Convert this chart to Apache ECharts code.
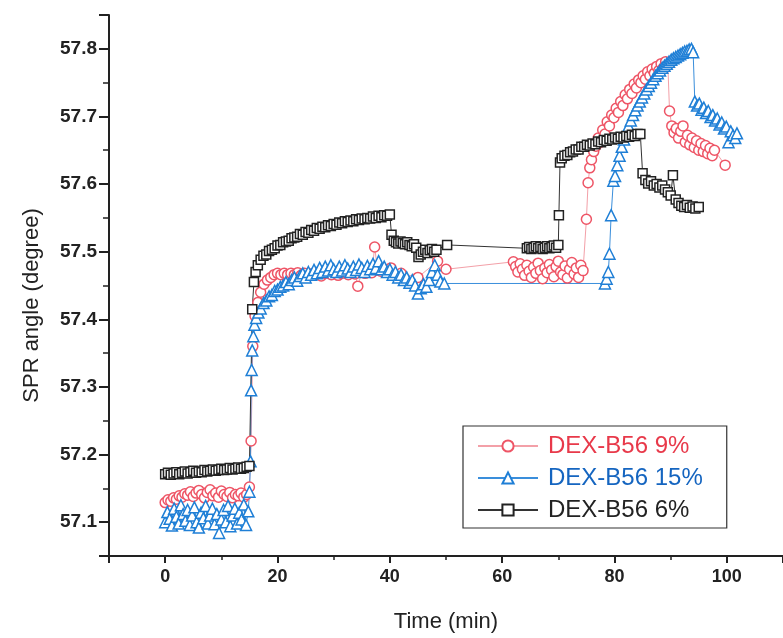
<!DOCTYPE html>
<html>
<head>
<meta charset="utf-8">
<script src="https://cdn.jsdelivr.net/npm/echarts@6/dist/echarts.min.js"></script>
<style>
  html, body { margin: 0; padding: 0; background: #fff; }
  #chart { width: 783px; height: 638px; }
</style>
</head>
<body>
<div id="chart"></div>
<script>
// SPR angle traces (degree) versus time (min) for three DEX-B56 concentrations.

const seriesNames = ['DEX-B56 9%', 'DEX-B56 15%', 'DEX-B56 6%'];

// DEX-B56 9%
const tRed = [
  0, 0.5, 1, 1.5, 2, 2.5, 3, 3.5, 4, 4.5, 5, 5.5, 6, 6.5, 7, 7.5, 8, 8.5, 9, 9.5, 10, 10.5, 11, 11.5, 12, 12.5, 13, 13.5, 14, 14.5, 15,
  15.3, 15.6, 16, 16.5, 17, 17.6, 18.2, 18.8, 19.4, 20, 20.6, 21.2, 21.8, 22.4, 23, 23.6, 24.2, 24.8, 25.4, 26, 26.6, 27.2, 27.8, 28.4, 29,
  29.6, 30.2, 30.8, 31.4, 32, 32.6, 33.2, 33.8, 34.3, 35, 35.6, 36.2, 36.8, 37.3, 37.8, 38.4, 39, 39.6, 40.2,
  42, 45, 48.5, 50,
  62, 62.4, 62.8, 63.2, 63.6, 64, 64.4, 64.8, 65.2, 65.6, 66, 66.4, 66.8, 67.2, 67.6, 68, 68.4, 68.8, 69.2, 69.6, 70, 70.4, 70.8, 71.2, 71.6, 72, 72.4, 72.8, 73.2, 73.6, 74, 74.4,
  75, 75.3, 75.6, 75.9, 76.3, 76.7, 77.1, 77.5, 77.9, 78.3, 78.7, 79.1, 79.5, 79.9, 80.3, 80.7, 81.1, 81.5, 81.9, 82.3, 82.7, 83.1, 83.5, 83.9, 84.3, 84.7, 85.1, 85.5, 85.9, 86.3, 86.7, 87.1, 87.5, 87.9, 88.3, 88.7, 89.1, 89.5,
  89.8, 90.2, 90.6, 91, 91.4, 91.8, 92.2, 92.6, 93, 93.4, 93.8, 94.2, 94.6, 95, 95.4, 95.8, 96.2, 96.6, 97, 97.4, 97.8, 99.7
];
const vRed = [
  57.129, 57.133, 57.131, 57.136, 57.134, 57.139, 57.137, 57.142, 57.140, 57.145, 57.138, 57.143, 57.147, 57.141, 57.136, 57.144, 57.148, 57.139, 57.143, 57.137, 57.146, 57.141, 57.138, 57.144, 57.136, 57.141, 57.139, 57.143, 57.137, 57.141, 57.152,
  57.220, 57.360, 57.405, 57.425, 57.440, 57.452, 57.458, 57.462, 57.466, 57.468, 57.466, 57.468, 57.466, 57.468, 57.466, 57.469, 57.465, 57.468, 57.464, 57.467, 57.466, 57.469, 57.464, 57.468, 57.469,
  57.466, 57.469, 57.465, 57.468, 57.470, 57.466, 57.469, 57.467, 57.449, 57.470, 57.468, 57.472, 57.469, 57.507, 57.473, 57.471, 57.474, 57.472, 57.476,
  57.468, 57.462, 57.486, 57.474,
  57.485, 57.478, 57.470, 57.482, 57.474, 57.465, 57.480, 57.471, 57.462, 57.477, 57.468, 57.483, 57.472, 57.460, 57.476, 57.469, 57.481, 57.473, 57.463, 57.478, 57.486, 57.470, 57.466, 57.479, 57.461, 57.474, 57.484, 57.467, 57.476, 57.462, 57.480, 57.472,
  57.548, 57.602, 57.624, 57.636, 57.648, 57.656, 57.668, 57.662, 57.680, 57.674, 57.692, 57.686, 57.702, 57.698, 57.712, 57.706, 57.722, 57.716, 57.732, 57.726, 57.740, 57.734, 57.748, 57.742, 57.754, 57.750, 57.760, 57.755, 57.766, 57.760, 57.770, 57.764, 57.774, 57.768, 57.778, 57.772, 57.781, 57.776,
  57.708, 57.686, 57.676, 57.682, 57.668, 57.678, 57.686, 57.662, 57.672, 57.658, 57.668, 57.654, 57.664, 57.650, 57.660, 57.648, 57.657, 57.645, 57.653, 57.642, 57.650, 57.628
];

// DEX-B56 15%
const tBlue = [
  0, 0.4, 0.8, 1.2, 1.6, 2, 2.4, 2.8, 3.2, 3.6, 4, 4.4, 4.8, 5.2, 5.6, 6, 6.4, 6.8, 7.2, 7.6, 8, 8.4, 8.8, 9.2, 9.6, 10, 10.4, 10.8, 11.2, 11.6, 12, 12.4, 12.8, 13.2, 13.6, 14, 14.4, 14.8, 15,
  15.2, 15.3, 15.4, 15.5, 15.7, 15.9, 16.2, 16.6,
  17, 17.5, 18, 18.5, 19, 19.5, 20, 20.5, 21, 21.5, 22, 22.5, 23, 23.5, 24, 24.5, 25, 25.5, 26, 26.5, 27, 27.5, 28, 28.5, 29, 29.5, 30, 30.5, 31, 31.5, 32, 32.5,
  33, 33.5, 34, 34.5, 35, 35.5, 36, 36.5, 37, 37.5, 38, 38.5, 39, 39.5, 40, 40.5, 41, 41.5, 42, 42.5, 43, 43.5, 44, 44.5, 45, 45.5, 46, 46.5, 47, 47.5, 48, 48.5, 49, 49.7,
  78.3, 78.6, 78.9, 79.1, 79.4, 79.8, 80.1, 80.5, 80.9, 81.3, 81.7, 82.1, 82.5, 82.9, 83.3, 83.7, 84.1, 84.5, 84.9, 85.3, 85.7, 86.1, 86.5, 86.9, 87.3, 87.7, 88.1, 88.5, 88.9, 89.3, 89.7, 90.1, 90.5, 90.9, 91.3, 91.7, 92.1, 92.5, 92.9, 93.3, 93.7, 94,
  94.3, 94.7, 95.1, 95.5, 95.9, 96.3, 96.7, 97.1, 97.5, 97.9, 98.3, 98.7, 99.1, 99.5, 99.9, 100.3, 100.7, 101.1, 101.5, 101.8
];
const vBlue = [
  57.100, 57.115, 57.105, 57.095, 57.120, 57.108, 57.098, 57.125, 57.112, 57.102, 57.118, 57.096, 57.110, 57.122, 57.100, 57.092, 57.114, 57.106, 57.124, 57.098, 57.110, 57.120, 57.097, 57.112, 57.084, 57.104, 57.118, 57.100, 57.124, 57.094, 57.110, 57.120, 57.098, 57.114, 57.104, 57.126, 57.096, 57.116, 57.145,
  57.190, 57.295, 57.325, 57.354, 57.375, 57.392, 57.402, 57.410,
  57.416, 57.424, 57.428, 57.434, 57.436, 57.442, 57.444, 57.448, 57.450, 57.455, 57.452, 57.458, 57.462, 57.457, 57.464, 57.468, 57.462, 57.470, 57.466, 57.473, 57.468, 57.476, 57.470, 57.478, 57.472, 57.480, 57.474, 57.470, 57.478, 57.472, 57.480, 57.475,
  57.470, 57.478, 57.473, 57.481, 57.476, 57.470, 57.479, 57.474, 57.482, 57.476, 57.486, 57.474, 57.478, 57.470, 57.474, 57.466, 57.470, 57.462, 57.466, 57.458, 57.462, 57.454, 57.458, 57.450, 57.438, 57.446, 57.452, 57.448, 57.458, 57.470, 57.480, 57.466, 57.456, 57.453,
  57.453, 57.460, 57.470, 57.497, 57.554, 57.605, 57.612, 57.628, 57.642, 57.655, 57.666, 57.677, 57.686, 57.694, 57.702, 57.709, 57.716, 57.722, 57.728, 57.734, 57.740, 57.745, 57.750, 57.755, 57.760, 57.764, 57.768, 57.772, 57.775, 57.778, 57.781, 57.784, 57.786, 57.788, 57.790, 57.792, 57.794, 57.796, 57.797, 57.799, 57.800, 57.795,
  57.722, 57.716, 57.719, 57.710, 57.713, 57.705, 57.708, 57.699, 57.702, 57.694, 57.697, 57.688, 57.691, 57.682, 57.685, 57.662, 57.678, 57.672, 57.668, 57.675
];

// DEX-B56 6%
const tBlack = [
  0, 0.5, 1, 1.5, 2, 2.5, 3, 3.5, 4, 4.5, 5, 5.5, 6, 6.5, 7, 7.5, 8, 8.5, 9, 9.5, 10, 10.5, 11, 11.5, 12, 12.5, 13, 13.5, 14, 14.5, 15,
  15.5, 15.8, 16.1, 16.5,
  17, 17.5, 18, 18.5, 19, 19.5, 20, 20.5, 21, 21.5, 22, 22.5, 23, 23.5, 24, 24.5, 25, 25.5, 26, 26.5, 27, 27.5, 28, 28.5,
  29, 29.5, 30, 30.5, 31, 31.5, 32, 32.5, 33, 33.5, 34, 34.5, 35, 35.5, 36, 36.5, 37, 37.5, 38, 38.5, 39, 39.5, 40,
  40.3, 40.7, 41.1, 41.5, 41.9, 42.3, 42.7, 43.1, 43.5, 43.9, 44.3, 44.7, 45.1, 45.5, 45.9, 46.3, 46.7, 47.1, 47.5, 47.9, 48.3, 50.2,
  64.4, 64.8, 65.2, 65.6, 66, 66.4, 66.8, 67.2, 67.6, 68, 68.4, 68.8, 69.2, 69.6, 70,
  70.1, 70.3, 70.6, 71.1, 71.6, 72.1, 72.6, 73.1, 73.6, 74.1, 74.6, 75.1, 75.6, 76.1, 76.6, 77.1, 77.6, 78.1, 78.6, 79.1, 79.6, 80.1, 80.6, 81.1, 81.6, 82.1, 82.6, 83.1, 83.6, 84.1, 84.6,
  85, 85.5, 86, 86.5, 87, 87.5, 88, 88.5, 89, 89.5, 90, 90.4, 90.9, 91.4, 91.9, 92.4, 92.9, 93.4, 93.9, 94.4, 95
];
const vBlack = [
  57.171, 57.173, 57.170, 57.172, 57.174, 57.171, 57.173, 57.175, 57.172, 57.174, 57.176, 57.173, 57.175, 57.174, 57.177, 57.175, 57.176, 57.178, 57.176, 57.177, 57.179, 57.177, 57.178, 57.180, 57.178, 57.179, 57.181, 57.179, 57.180, 57.182, 57.183,
  57.415, 57.455, 57.470, 57.480,
  57.488, 57.494, 57.496, 57.501, 57.503, 57.505, 57.509, 57.510, 57.514, 57.515, 57.516, 57.520, 57.521, 57.522, 57.526, 57.525, 57.529, 57.528, 57.532, 57.531, 57.535, 57.534, 57.537, 57.536,
  57.539, 57.538, 57.541, 57.540, 57.543, 57.542, 57.545, 57.544, 57.546, 57.545, 57.548, 57.547, 57.549, 57.548, 57.550, 57.549, 57.552, 57.550, 57.553, 57.551, 57.554, 57.553, 57.555,
  57.525, 57.516, 57.514, 57.512, 57.515, 57.513, 57.511, 57.514, 57.510, 57.508, 57.511, 57.506, 57.492, 57.496, 57.500, 57.503, 57.498, 57.502, 57.504, 57.500, 57.503, 57.510,
  57.505, 57.507, 57.504, 57.506, 57.508, 57.505, 57.507, 57.504, 57.506, 57.508, 57.505, 57.507, 57.509, 57.506, 57.510,
  57.554, 57.632, 57.638, 57.642, 57.643, 57.647, 57.648, 57.651, 57.651, 57.655, 57.655, 57.658, 57.657, 57.660, 57.659, 57.663, 57.662, 57.665, 57.664, 57.667, 57.666, 57.669, 57.667, 57.670, 57.669, 57.671, 57.670, 57.673, 57.671, 57.674, 57.674,
  57.616, 57.606, 57.601, 57.604, 57.598, 57.600, 57.595, 57.598, 57.592, 57.588, 57.583, 57.613, 57.577, 57.572, 57.568, 57.566, 57.569, 57.565, 57.567, 57.564, 57.566
];

const pairs = (ts, vs) => ts.map((t, i) => [t, vs[i]]);

const FONT = 'Liberation Sans, Arial, sans-serif';
const RED = '#ee5566', RED_LINE = '#f3a0a8', RED_TEXT = '#e8394a';
const BLUE = '#1f7fd6', BLUE_LINE = '#3a8edb', BLUE_TEXT = '#1565c0';
const BLACK = '#222222';

function makeSeries(name, data, symbol, size, edge, lineColor) {
  return {
    name: name,
    type: 'line',
    data: data,
    symbol: symbol,
    symbolSize: size,
    showSymbol: true,
    showAllSymbol: true,
    lineStyle: { color: lineColor, width: 1 },
    itemStyle: { color: '#ffffff', borderColor: edge, borderWidth: 1.5 },
    emphasis: { disabled: true },
    animation: false
  };
}

const chart = echarts.init(document.getElementById('chart'), null, { renderer: 'canvas' });
chart.setOption({
  backgroundColor: '#ffffff',
  animation: false,
  grid: { left: 109, right: -5, top: 15, bottom: 75, containLabel: false },
  xAxis: {
    type: 'value',
    min: -10,
    max: 110,
    splitNumber: 6,
    name: 'Time (min)',
    nameLocation: 'middle',
    nameGap: 55,
    nameTextStyle: { fontFamily: FONT, fontSize: 22, color: BLACK },
    axisLine: { show: true, onZero: false, lineStyle: { color: BLACK, width: 2 } },
    axisTick: { show: true, inside: false, length: 7, lineStyle: { color: BLACK, width: 2 } },
    minorTick: { show: true, splitNumber: 2, length: 4, lineStyle: { color: BLACK, width: 1.5 } },
    axisLabel: {
      showMinLabel: false, showMaxLabel: false, margin: 12,
      fontFamily: FONT, fontSize: 18, fontWeight: 'bold', color: BLACK
    },
    splitLine: { show: false }
  },
  yAxis: {
    type: 'value',
    min: 57.05,
    max: 57.85,
    splitNumber: 8,
    name: 'SPR angle (degree)',
    nameLocation: 'middle',
    nameGap: 66,
    nameTextStyle: { fontFamily: FONT, fontSize: 22, color: BLACK, padding: [0, 40, 0, 0] },
    axisLine: { show: true, onZero: false, lineStyle: { color: BLACK, width: 2 } },
    axisTick: { show: true, inside: false, length: 10, lineStyle: { color: BLACK, width: 2 } },
    minorTick: { show: true, splitNumber: 2, length: 6, lineStyle: { color: BLACK, width: 1.5 } },
    axisLabel: {
      showMinLabel: false, showMaxLabel: false, margin: 12,
      fontFamily: FONT, fontSize: 19, fontWeight: 'bold', color: BLACK,
      formatter: v => v.toFixed(1)
    },
    splitLine: { show: false }
  },
  legend: {
    orient: 'vertical',
    left: 463,
    top: 426,
    width: 264,
    itemWidth: 60,
    itemHeight: 14,
    itemGap: 8,
    padding: [8, 24, 6, 14],
    borderColor: '#333',
    borderWidth: 1.2,
    backgroundColor: '#ffffff',
    textStyle: { fontFamily: FONT, fontSize: 24, padding: [0, 0, 0, 5] },
    data: [
      { name: seriesNames[0], textStyle: { color: RED_TEXT } },
      { name: seriesNames[1], textStyle: { color: BLUE_TEXT } },
      { name: seriesNames[2], textStyle: { color: BLACK } }
    ],
    selectedMode: false
  },
  series: [
    makeSeries(seriesNames[0], pairs(tRed, vRed), 'circle', 10, RED, RED_LINE),
    makeSeries(seriesNames[1], pairs(tBlue, vBlue), 'triangle', 11, BLUE, BLUE_LINE),
    makeSeries(seriesNames[2], pairs(tBlack, vBlack), 'rect', 9, BLACK, '#333333')
  ]
});
</script>
</body>
</html>
